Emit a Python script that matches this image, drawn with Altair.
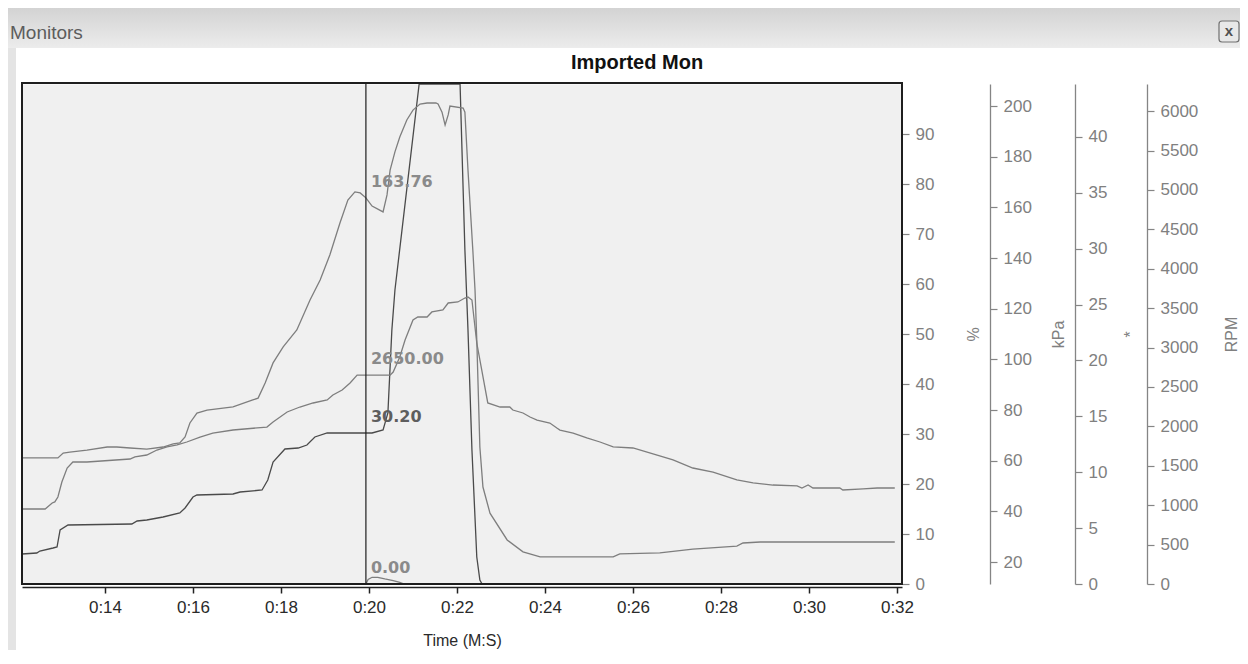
import altair as alt
import pandas as pd

# ---------------- data ----------------
# Throttle, %  (first right axis, 0-100)
thr_t = [12.11, 12.45, 12.52, 12.82, 12.91, 12.98, 13.16, 14.61, 14.73, 14.95,
         15.32, 15.70, 15.82, 16.00, 16.09, 16.91, 17.07, 17.57, 17.70, 17.82,
         18.09, 18.39, 18.59, 18.77, 19.05, 19.93, 20.07, 20.32, 20.43, 20.52,
         20.59, 21.14, 22.07, 22.18, 22.25, 22.34, 22.45, 22.52, 22.57, 31.95]
thr_v = [6.0, 6.2, 6.6, 7.2, 7.4, 10.8, 11.8, 12.0, 12.6, 12.8,
         13.4, 14.2, 15.2, 17.4, 17.8, 18.0, 18.4, 18.8, 20.8, 24.4,
         27.0, 27.2, 27.8, 29.4, 30.2, 30.2, 30.2, 30.8, 34.2, 50.8,
         58.8, 100, 100, 66.8, 50.8, 26.8, 5.4, 0.8, 0, 0]

# Manifold pressure, kPa (second axis)
map_t = [12.11, 12.93, 13.05, 13.20, 13.59, 14.05, 14.27, 14.57, 14.95, 15.32,
         15.55, 15.70, 15.82, 15.93, 16.09, 16.32, 16.91, 17.36, 17.48, 17.64,
         17.82, 18.05, 18.36, 18.66, 18.89, 19.11, 19.34, 19.52, 19.68, 19.80,
         19.93, 20.07, 20.32, 20.41, 20.48, 20.59, 20.70, 20.86, 21.00, 21.16,
         21.32, 21.52, 21.57, 21.66, 21.73, 21.80, 21.84, 22.14, 22.18, 22.25,
         22.36, 22.41, 22.45, 22.52, 22.59, 22.75, 23.14, 23.50, 23.89, 25.55,
         25.70, 26.61, 27.36, 28.36, 28.50, 28.89, 31.95]
map_v = [61.1, 61.1, 63.0, 63.4, 64.2, 65.4, 65.4, 65.0, 64.6, 65.4,
         66.6, 67.0, 69.4, 74.9, 78.8, 80.0, 81.2, 84.0, 84.7, 90.7,
         98.6, 104.9, 111.6, 123.4, 131.3, 141.2, 153.8, 162.9, 166.1, 165.7,
         163.76, 160.5, 158.2, 164.9, 174.7, 181.9, 187.8, 194.5, 198.4, 200.8,
         201.2, 201.2, 200.8, 197.6, 192.5, 196.5, 200.0, 199.2, 197.6, 174.7,
         143.2, 127.4, 107.6, 65.4, 49.6, 39.3, 28.7, 24.0, 22.0, 22.0,
         23.2, 23.6, 25.1, 26.3, 27.5, 27.9, 27.9]

# Ignition, * (third axis)
ign_t = [12.11, 19.93, 19.98, 20.07, 20.20, 20.36, 20.55, 20.70, 20.80, 31.95]
ign_v = [0, 0, 0.4, 0.6, 0.6, 0.45, 0.3, 0.15, 0, 0]

# Engine speed, RPM (fourth axis)
rpm_t = [12.11, 12.64, 12.80, 12.86, 12.93, 13.02, 13.14, 13.27, 13.59, 14.57,
         14.68, 14.95, 15.18, 15.41, 15.64, 15.86, 16.16, 16.45, 16.91, 17.68,
         17.82, 18.14, 18.43, 18.73, 19.05, 19.18, 19.39, 19.57, 19.73, 20.48,
         20.55, 20.70, 20.82, 21.00, 21.11, 21.32, 21.43, 21.68, 21.80, 22.02,
         22.18, 22.25, 22.34, 22.45, 22.70, 22.98, 23.20, 23.27, 23.50, 23.66,
         23.82, 24.11, 24.27, 24.34, 24.64, 24.95, 25.25, 25.55, 26.00, 26.55,
         26.91, 27.36, 27.82, 28.36, 28.73, 29.18, 29.73, 29.84, 29.98, 30.09,
         30.70, 30.77, 31.23, 31.55, 31.95]
rpm_v = [952, 952, 1028, 1041, 1104, 1294, 1472, 1548, 1548, 1586,
         1612, 1637, 1700, 1739, 1764, 1802, 1865, 1916, 1954, 1992,
         2056, 2183, 2246, 2297, 2335, 2398, 2462, 2551, 2650, 2650,
         2690, 2881, 3096, 3350, 3388, 3388, 3452, 3477, 3566, 3579,
         3629, 3642, 3604, 3058, 2297, 2246, 2246, 2208, 2170, 2119,
         2081, 2043, 1980, 1954, 1916, 1853, 1802, 1739, 1726, 1637,
         1574, 1472, 1421, 1320, 1282, 1256, 1244, 1218, 1256, 1218,
         1218, 1193, 1206, 1218, 1218]

# cursor and the values read at it
cursor_t = [19.93]
cursor_thr = [30.20]
cursor_map = [163.76]
cursor_ign = [0.00]
cursor_rpm = [2650.00]

# axis tick values
x_ticks = [14, 16, 18, 20, 22, 24, 26, 28, 30, 32]
thr_ticks = [0, 10, 20, 30, 40, 50, 60, 70, 80, 90]
map_ticks = [20, 40, 60, 80, 100, 120, 140, 160, 180, 200]
ign_ticks = [0, 5, 10, 15, 20, 25, 30, 35, 40]
rpm_ticks = [0, 500, 1000, 1500, 2000, 2500, 3000, 3500, 4000, 4500, 5000, 5500, 6000]

assert len(thr_t) == len(thr_v)
assert len(map_t) == len(map_v)
assert len(ign_t) == len(ign_v)
assert len(rpm_t) == len(rpm_v)

# ---------------- styling ----------------
W, H = 880, 500
SANS = "Liberation Sans"
X_DOMAIN = [12.114, 32.114]
LINE_GRAY = "#7e7e7e"
DARK_LINE = "#4a4a4a"
AX_GRAY = "#858585"

one = pd.DataFrame({"k": [0]})

X_AXIS = alt.Axis(
    values=x_ticks, labelExpr="'0:' + format(datum.value, '02d')",
    title="Time (M:S)", orient="bottom", offset=3,
    domainColor="#222222", domainWidth=1.5, tickColor="#222222", tickWidth=1.5,
    tickSize=6, labelFont=SANS, labelFontSize=17, labelColor="#2a2a2a",
    labelPadding=6, labelFlush=False, grid=False,
    titleFont=SANS, titleFontSize=16, titleFontWeight="normal",
    titleColor="#2a2a2a", titlePadding=17,
)
X_SCALE = alt.Scale(domain=X_DOMAIN, nice=False, zero=False)


def xenc():
    return alt.X("t:Q", scale=X_SCALE, axis=X_AXIS)


def yaxis(values, title, offset, title_x, domain=True):
    kw = dict(
        values=values, orient="right", offset=offset, title=title, format="d",
        tickColor=AX_GRAY, tickSize=7, tickWidth=1.2,
        labelFont=SANS, labelFontSize=17, labelColor="#808080", labelPadding=6,
        labelOverlap=False, grid=False,
        titleFont=SANS, titleFontSize=16, titleFontWeight="normal",
        titleColor="#808080", titleAngle=270, titleX=title_x, titleY=H / 2,
        titleAlign="center", titleBaseline="middle",
    )
    if domain:
        kw.update(domain=True, domainColor=AX_GRAY, domainWidth=1.3)
    else:
        kw.update(domain=False)
    return alt.Axis(**kw)


def series(t, v, cur_v, domain, axis, color, label_color):
    df = pd.DataFrame({"t": t, "v": v})
    cdf = pd.DataFrame({"t": cursor_t, "v": cur_v})
    scale = alt.Scale(domain=domain, nice=False, zero=False)
    line = alt.Chart(df).mark_line(color=color, strokeWidth=1.3, clip=True).encode(
        x=xenc(), y=alt.Y("v:Q", scale=scale, axis=axis))
    lab = alt.Chart(cdf).mark_text(
        align="left", baseline="middle", dx=5, dy=-16, font="DejaVu Sans",
        fontWeight="bold", fontSize=16, color=label_color,
    ).encode(x=xenc(), y=alt.Y("v:Q", scale=scale, axis=axis),
             text=alt.Text("v:Q", format=".2f"))
    return alt.layer(line, lab)


thr_layer = series(thr_t, thr_v, cursor_thr, [0, 100],
                   yaxis(thr_ticks, "%", 0, 71, domain=False),
                   DARK_LINE, "#5e5e5e")
map_layer = series(map_t, map_v, cursor_map, [11.32, 208.7],
                   yaxis(map_ticks, "kPa", 88, 68), LINE_GRAY, "#8a8a8a")
ign_layer = series(ign_t, ign_v, cursor_ign, [0, 44.74],
                   yaxis(ign_ticks, "*", 173, 55), LINE_GRAY, "#8a8a8a")
rpm_layer = series(rpm_t, rpm_v, cursor_rpm, [0, 6345],
                   yaxis(rpm_ticks, "RPM", 245, 84), LINE_GRAY, "#8a8a8a")

# ---------------- window chrome ----------------
header = alt.Chart(one).mark_rect(
    fill={"gradient": "linear", "x1": 0, "y1": 0, "x2": 0, "y2": 1,
          "stops": [{"offset": 0, "color": "#d3d3d3"},
                    {"offset": 1, "color": "#ececec"}]},
).encode(x=alt.value(-14), x2=alt.value(1218), y=alt.value(-76), y2=alt.value(-36))

strip = alt.Chart(one).mark_rect(color="#e4e4e4").encode(
    x=alt.value(-14), x2=alt.value(-6), y=alt.value(-36), y2=alt.value(566))

monitors = alt.Chart(one).mark_text(
    text="Monitors", align="left", baseline="middle", font=SANS, fontSize=19,
    color="#5c5c5c").encode(x=alt.value(-12), y=alt.value(-51))

close_box = alt.Chart(one).mark_rect(
    fill="#e8e8e8", stroke="#707070", strokeWidth=1.2, cornerRadius=3).encode(
    x=alt.value(1197), x2=alt.value(1217), y=alt.value(-63), y2=alt.value(-42))

close_x = alt.Chart(one).mark_text(
    text="x", align="center", baseline="middle", font=SANS, fontSize=15,
    fontWeight="bold", color="#505050").encode(x=alt.value(1207), y=alt.value(-53))

title = alt.Chart(one).mark_text(
    text="Imported Mon", align="center", baseline="middle", font=SANS,
    fontSize=20, fontWeight="bold", color="#111111").encode(
    x=alt.value(615), y=alt.value(-21))

frame = alt.Chart(one).mark_rect(
    fillOpacity=0, stroke="#1e1e1e", strokeWidth=2).encode(
    x=alt.value(0), x2=alt.value(W), y=alt.value(-1), y2=alt.value(H))

cursor = alt.Chart(pd.DataFrame({"t": cursor_t})).mark_rule(
    color="#1e1e1e", strokeWidth=1.2).encode(x=xenc())

chart = alt.layer(
    header, strip, monitors, close_box, close_x, title,
    thr_layer, map_layer, ign_layer, rpm_layer, frame, cursor,
).resolve_scale(y="independent").properties(
    width=W, height=H,
    padding={"left": 14, "top": 76, "right": 338, "bottom": 66},
    autosize=alt.AutoSizeParams(type="none"),
).configure(background="#ffffff").configure_view(
    fill="#f0f0f0", stroke="transparent")

chart.save("out.html", embed_options={"renderer": "svg", "actions": False})
